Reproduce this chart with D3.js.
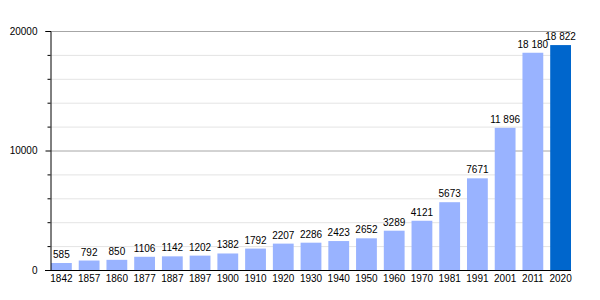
<!DOCTYPE html>
<html>
<head>
<meta charset="utf-8">
<script src="https://cdn.jsdelivr.net/npm/d3@7"></script>
<style>
  body { margin: 0; background: #fff; }
  svg text { font-family: "Liberation Sans", Arial, sans-serif; font-size: 10px; fill: #000; }
</style>
</head>
<body>
<script>
// data
var years = ["1842", "1857", "1860", "1877", "1887", "1897", "1900", "1910", "1920", "1930",
             "1940", "1950", "1960", "1970", "1981", "1991", "2001", "2011", "2020"];
var population = [585, 792, 850, 1106, 1142, 1202, 1382, 1792, 2207, 2286,
                  2423, 2652, 3289, 4121, 5673, 7671, 11896, 18180, 18822];
var majorTicks = [0, 10000, 20000];
var minorTicks = [2000, 4000, 6000, 8000, 12000, 14000, 16000, 18000];

var width = 600, height = 300,
    margin = {top: 31, right: 29, bottom: 30, left: 50};

var svg = d3.select("body").append("svg")
    .attr("width", width)
    .attr("height", height);

var x = d3.scaleBand()
    .domain(years)
    .range([margin.left + 1, width - margin.right])
    .paddingInner(0.25)
    .paddingOuter(0);

var y = d3.scaleLinear()
    .domain([0, 20000])
    .range([height - margin.bottom, margin.top]);

// grid lines
svg.append("g")
  .selectAll("line")
  .data(minorTicks)
  .join("line")
    .attr("x1", margin.left).attr("x2", width - margin.right)
    .attr("y1", d => y(d) + 0.5).attr("y2", d => y(d) + 0.5)
    .attr("stroke", "#e4e4e4");

svg.append("g")
  .selectAll("line")
  .data(majorTicks.slice(1))
  .join("line")
    .attr("x1", margin.left).attr("x2", width - margin.right)
    .attr("y1", d => y(d) + 0.5).attr("y2", d => y(d) + 0.5)
    .attr("stroke", "#a6a6a6");

// bars
svg.append("g")
  .selectAll("rect")
  .data(population)
  .join("rect")
    .attr("x", (d, i) => x(years[i]))
    .attr("y", d => y(d))
    .attr("width", x.bandwidth())
    .attr("height", d => y(0) - y(d))
    .attr("fill", (d, i) => i == population.length - 1 ? "#0066cc" : "#99b3ff");

// value labels
var fmt = d => d >= 10000 ? d3.format(",")(d).replace(",", " ") : String(d);
svg.append("g")
  .selectAll("text")
  .data(population)
  .join("text")
    .attr("x", (d, i) => x(years[i]) + x.bandwidth() / 2)
    .attr("y", d => y(d) - 5)
    .attr("text-anchor", "middle")
    .text(fmt);

// y axis
var yAxis = d3.axisLeft(y).tickValues(majorTicks).tickSize(5).tickPadding(8)
    .tickFormat(d3.format("d"));
var gy = svg.append("g")
    .attr("transform", "translate(" + (margin.left + 0.5) + ",0)")
    .call(yAxis);
gy.select(".domain").attr("stroke", "#000");
gy.selectAll("text").style("font-size", "10px");

svg.append("g")
    .attr("transform", "translate(" + (margin.left + 0.5) + ",0)")
    .call(d3.axisLeft(y).tickValues(minorTicks).tickSize(3).tickFormat(""))
    .select(".domain").remove();

// x axis
var gx = svg.append("g")
    .attr("transform", "translate(0," + (y(0) + 0.5) + ")")
    .call(d3.axisBottom(x).tickSize(0).tickPadding(4).tickSizeOuter(0));
gx.select(".domain").attr("d", "M" + (margin.left - 5) + ",0H" + (width - margin.right));
gx.selectAll("text").style("font-size", "10px");
</script>
</body>
</html>
